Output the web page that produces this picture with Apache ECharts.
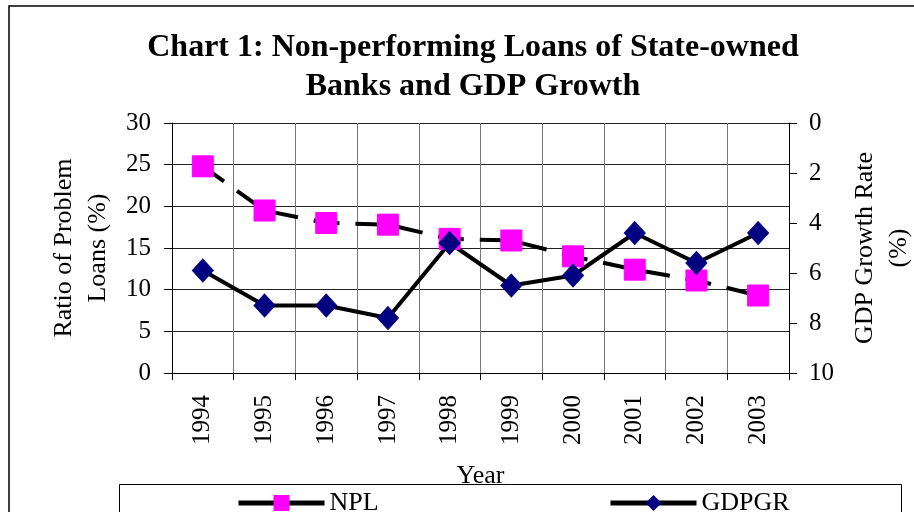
<!DOCTYPE html>
<html>
<head>
<meta charset="utf-8">
<script src="https://cdn.jsdelivr.net/npm/echarts@6/dist/echarts.min.js"></script>
<style>html,body{margin:0;padding:0;background:#fff;overflow:hidden;}#c{width:914px;height:512px;}</style>
</head>
<body>
<div id="c"></div>
<script>
var years = ['1994','1995','1996','1997','1998','1999','2000','2001','2002','2003'];
var npl = [24.8, 19.5, 18.0, 17.8, 16.1, 15.9, 14.0, 12.4, 11.1, 9.3];
var gdpgr = [5.9, 7.3, 7.3, 7.8, 4.8, 6.5, 6.1, 4.4, 5.6, 4.4];
var leftTicks = {min: 0, max: 30, interval: 5};
var rightTicks = {min: 0, max: 10, interval: 2};

var FONT = 'Liberation Serif';
var chart = echarts.init(document.getElementById('c'));
chart.setOption({
  backgroundColor: '#fff',
  animation: false,
  textStyle: {fontFamily: FONT, color: '#000'},
  title: {
    text: 'Chart 1: Non-performing Loans of State-owned\nBanks and GDP Growth',
    left: 468, top: 23, textAlign: 'center',
    textStyle: {fontFamily: FONT, fontWeight: 'bold', fontSize: 32, lineHeight: 39, color: '#000'}
  },
  graphic: [
    {type: 'rect', shape: {x: 9, y: 6, width: 1000, height: 1000}, style: {fill: 'none', stroke: '#000', lineWidth: 1.5}, z: -1},
    {type: 'rect', shape: {x: 119.5, y: 484.5, width: 782, height: 100}, style: {fill: 'none', stroke: '#000', lineWidth: 1}, z: -1}
  ],
  legend: [
    {data: ['NPL'], left: 231, top: 485, itemWidth: 86, itemHeight: 20, itemGap: 0,
     lineStyle: {width: 5, color: '#000', type: 'solid'},
     textStyle: {fontFamily: FONT, fontSize: 26, color: '#000'}},
    {data: ['GDPGR'], left: 603, top: 485, itemWidth: 86, itemHeight: 20, itemGap: 0,
     lineStyle: {width: 5, color: '#000', type: 'solid'},
     textStyle: {fontFamily: FONT, fontSize: 26, color: '#000'}}
  ],
  grid: {left: 172, right: 125, top: 123, bottom: 139, containLabel: false, outerBoundsMode: 'none'},
  xAxis: {
    type: 'category', data: years, boundaryGap: true,
    name: 'Year', nameLocation: 'middle', nameGap: 90,
    nameTextStyle: {fontFamily: FONT, fontSize: 26, color: '#000'},
    axisLine: {lineStyle: {color: '#000', width: 1}},
    axisTick: {show: true, alignWithLabel: false, length: 7, lineStyle: {color: '#000'}},
    axisLabel: {rotate: 90, margin: 22, fontFamily: FONT, fontSize: 25, color: '#000', interval: 0},
    splitLine: {show: true, lineStyle: {color: '#777', width: 1}}
  },
  yAxis: [
    {
      type: 'value', position: 'left', min: leftTicks.min, max: leftTicks.max, interval: leftTicks.interval,
      name: 'Ratio of Problem\nLoans (%)', nameLocation: 'middle', nameGap: 57, nameRotate: 90,
      nameTextStyle: {fontFamily: FONT, fontSize: 26, color: '#000', lineHeight: 34},
      axisLine: {show: true, lineStyle: {color: '#000', width: 1}},
      axisTick: {show: true, length: 8, lineStyle: {color: '#000'}},
      axisLabel: {margin: 21, fontFamily: FONT, fontSize: 25, color: '#000'},
      splitLine: {show: true, lineStyle: {color: '#222', width: 1}}
    },
    {
      type: 'value', position: 'right', inverse: true, min: rightTicks.min, max: rightTicks.max, interval: rightTicks.interval,
      name: 'GDP Growth Rate\n(%)', nameLocation: 'middle', nameGap: 59, nameRotate: 90,
      nameTextStyle: {fontFamily: FONT, fontSize: 26, color: '#000', lineHeight: 34},
      axisLine: {show: true, lineStyle: {color: '#000', width: 1}},
      axisTick: {show: true, length: 8, lineStyle: {color: '#000'}},
      axisLabel: {margin: 20, fontFamily: FONT, fontSize: 25, color: '#000'},
      splitLine: {show: false}
    }
  ],
  series: [
    {
      name: 'NPL', type: 'line', yAxisIndex: 0, data: npl,
      symbol: 'rect', symbolSize: 21, showAllSymbol: true,
      itemStyle: {color: '#FF00FF', borderColor: '#FF00FF'},
      lineStyle: {color: '#000', width: 4, type: [26, 16]}
    },
    {
      name: 'GDPGR', type: 'line', yAxisIndex: 1, data: gdpgr,
      symbol: 'diamond', symbolSize: [21, 23], showAllSymbol: true,
      itemStyle: {color: '#000080', borderColor: '#000080'},
      lineStyle: {color: '#000', width: 4, type: 'solid'}
    }
  ]
});
</script>
</body>
</html>
